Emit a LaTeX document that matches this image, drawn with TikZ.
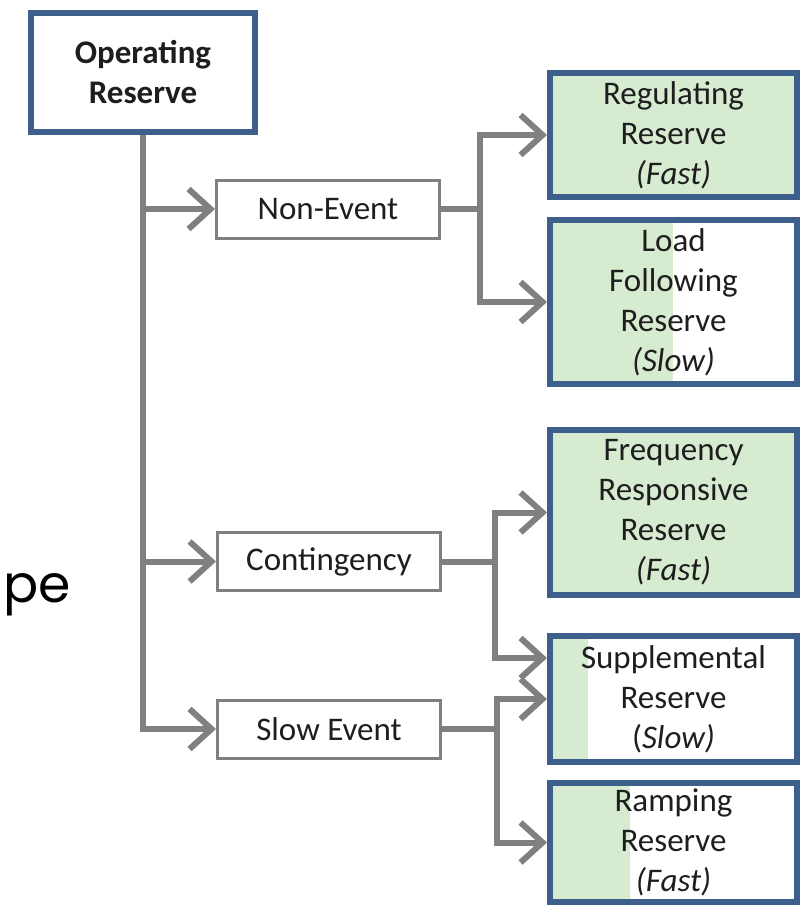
\documentclass[tikz,border=0pt]{standalone}
\usepackage{fontspec}
\setmainfont{Carlito}
\newfontfamily\geofont{Poppins}
\usetikzlibrary{arrows.meta}
\definecolor{boxblue}{HTML}{3C5F8C}
\definecolor{linkgray}{HTML}{808080}
\definecolor{resgreen}{HTML}{D7EBD1}
\definecolor{inkdark}{HTML}{1E1E1E}

\begin{document}
\begin{tikzpicture}[
  x=1pt, y=-1pt,
  every node/.style={font=\fontsize{33}{40}\selectfont, text=inkdark, align=center, inner sep=0pt},
  top/.style={draw=boxblue, line width=6pt, fill=white, minimum width=224pt, minimum height=119pt,
    font=\fontsize{33}{40}\selectfont\bfseries},
  event/.style={draw=linkgray, line width=3pt, fill=white, minimum width=223pt, minimum height=58pt},
  reserve/.style={draw=boxblue, line width=6pt, minimum width=247pt},
  share/.style={path picture={\fill[resgreen] (path picture bounding box.north west)
    rectangle ([xshift=#1]path picture bounding box.south west);}},
  link/.style={draw=linkgray, line width=6pt},
  arrow/.style={link, -{Straight Barb[length=22pt, width=40pt]}}]
  \useasboundingbox (0,0) rectangle (810,908);
  \node[top] (op) at (143,72.5) {Operating\\Reserve};
  \node[event] (nonev) at (328,209) {Non-Event};
  \node[event] (cont) at (329,561.5) {Contingency};
  \node[event] (slowev) at (329,729) {Slow Event};
  \node[reserve, fill=resgreen, minimum height=124pt] (regres) at (673.5,135) {Regulating\\Reserve\\\textit{(Fast)}};
  \node[reserve, share=123pt, minimum height=164pt] (lfres) at (673.5,302) {Load\\Following\\Reserve\\\textit{(Slow)}};
  \node[reserve, fill=resgreen, minimum height=165pt] (frres) at (673.5,512.5) {Frequency\\Responsive\\Reserve\\\textit{(Fast)}};
  \node[reserve, share=38pt, minimum height=126pt] (supres) at (673.5,699) {Supplemental\\Reserve\\(\textit{Slow)}};
  \node[reserve, share=80pt, minimum height=119pt] (rampres) at (673.5,842.5) {Ramping\\Reserve\\\textit{(Fast)}};
  \node[font=\geofont\fontsize{52}{60}\selectfont, text=black, anchor=base west] (pe) at (3,602) {pe};
  % trunk
  \draw[arrow] (op.south) |- (nonev.west);
  \draw[arrow] (op.south) |- (cont.west);
  \draw[arrow] (op.south) |- (slowev.west);
  % branches
  \coordinate (nesplit) at (480,209);
  \draw[link] (nonev.east) -- (nesplit);
  \draw[arrow] (nesplit) |- (regres.west);
  \draw[arrow] (nesplit) |- (lfres.west);
  \coordinate (ctsplit) at (495,561.5);
  \draw[link] (cont.east) -- (ctsplit);
  \draw[arrow] (ctsplit) |- (frres.west);
  \draw[arrow] (ctsplit) |- ([yshift=41pt]supres.west);
  \coordinate (sesplit) at (497,729);
  \draw[link] (slowev.east) -- (sesplit);
  \draw[arrow] (sesplit) |- (supres.west);
  \draw[arrow] (sesplit) |- (rampres.west);
\end{tikzpicture}
\end{document}
